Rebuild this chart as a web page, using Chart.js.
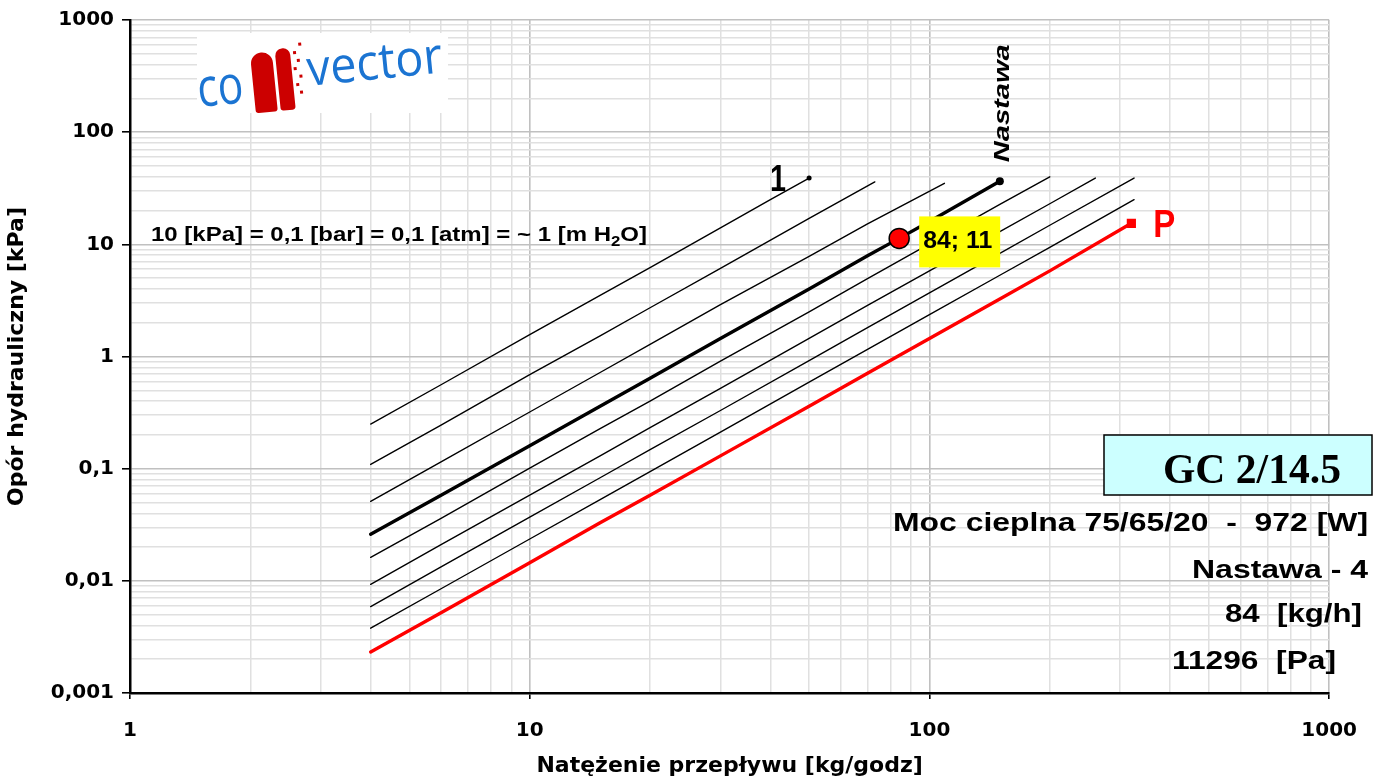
<!DOCTYPE html>
<html>
<head>
<meta charset="utf-8">
<script src="https://cdn.jsdelivr.net/npm/chart.js@4.4.1/dist/chart.umd.min.js"></script>
<style>
  html, body { margin: 0; padding: 0; background: #fff; }
  canvas { display: block; }
</style>
</head>
<body>
<canvas id="chart" width="1377" height="781"></canvas>
<script>
// Opór hydrauliczny - GC 2/14.5, krzywe nastaw

// x: natężenie przepływu [kg/h], y: opór [kPa]
const flow1 = [4, 6, 10, 15, 20, 30, 40, 50];
const dp1 = [0.25, 0.56, 1.57, 3.5, 6.2, 14, 25, 39];

const flow2 = [4, 6, 10, 15, 20, 30, 50, 73];
const dp2 = [0.109, 0.245, 0.69, 1.53, 2.72, 6.1, 17, 36];

const flow3 = [4, 6, 10, 15, 20, 30, 50, 70, 109];
const dp3 = [0.051, 0.115, 0.32, 0.72, 1.28, 2.9, 7.8, 15.2, 35];

// nastawa 4 (gruba linia)
const flow4 = [4, 6, 10, 15, 20, 30, 50, 70, 84, 100, 150];
const dp4 = [0.026, 0.058, 0.16, 0.36, 0.64, 1.45, 4.0, 7.9, 11.3, 16, 36.5];

const flow5 = [4, 6, 10, 15, 20, 30, 50, 70, 100, 150, 200];
const dp5 = [0.0162, 0.036, 0.101, 0.227, 0.40, 0.91, 2.5, 4.95, 10.1, 22.7, 40];

const flow6 = [4, 6, 10, 15, 20, 30, 50, 70, 100, 150, 200, 260];
const dp6 = [0.0093, 0.021, 0.058, 0.13, 0.232, 0.52, 1.45, 2.85, 5.8, 13, 23, 39];

const flow7 = [4, 6, 10, 15, 20, 30, 50, 70, 100, 150, 200, 325];
const dp7 = [0.0059, 0.0133, 0.037, 0.083, 0.148, 0.33, 0.92, 1.81, 3.7, 8.3, 14.8, 39];

const flow8 = [4, 6, 10, 15, 20, 30, 50, 70, 100, 150, 200, 325];
const dp8 = [0.00378, 0.0085, 0.0236, 0.053, 0.094, 0.212, 0.59, 1.16, 2.36, 5.3, 9.4, 25];

// P - pełne otwarcie (czerwona)
const flowP = [4, 6, 10, 15, 20, 30, 50, 70, 100, 150, 200, 320];
const dpP = [0.00232, 0.0052, 0.0145, 0.033, 0.058, 0.13, 0.36, 0.71, 1.45, 3.26, 5.8, 15.4];

// punkt pracy
const workFlow = 84;
const workDp = 11.296;

// osie
const xDecades = [1, 10, 100, 1000];
const xTickText = ['1', '10', '100', '1000'];
const yDecades = [0.001, 0.01, 0.1, 1, 10, 100, 1000];
const yTickText = ['0,001', '0,01', '0,1', '1', '10', '100', '1000'];

function gridValues(decades) {
    const out = [];
    decades.forEach((d, i) => {
        if (i === decades.length - 1) { out.push(d); return; }
        for (let k = 1; k < 10; k++) out.push(+(d * k).toPrecision(6));
    });
    return out;
}
const xGrid = gridValues(xDecades);
const yGrid = gridValues(yDecades);

function isDecade(v) {
    if (v === undefined) return false;
    const l = Math.log10(v);
    return Math.abs(l - Math.round(l)) < 1e-6;
}
function decadeLabel(v, values, labels) {
    const i = values.findIndex(m => Math.abs(Math.log10(m) - Math.log10(v)) < 1e-6);
    return i >= 0 ? labels[i] : '';
}
function pts(xs, ys) {
    return xs.map((x, i) => ({ x: x, y: ys[i] }));
}
function curve(xs, ys, width, color) {
    return {
        data: pts(xs, ys),
        borderColor: color || '#000',
        borderWidth: width,
        pointRadius: 0,
        tension: 0,
        borderJoinStyle: 'round',
        borderCapStyle: 'round'
    };
}
function last(arr) { return arr[arr.length - 1]; }

const SANS = '"Liberation Sans", Arial, sans-serif';
const AXISFONT = '"DejaVu Sans", sans-serif';

// tekst dopasowany do szerokości (x = lewa lub prawa krawędź)
function fitText(ctx, text, x, y, width, font, color, align) {
    ctx.save();
    ctx.font = font;
    const w = ctx.measureText(text).width;
    ctx.translate(x, y);
    ctx.scale(width / w, 1);
    ctx.fillStyle = color;
    ctx.textAlign = 'left';
    ctx.textBaseline = 'alphabetic';
    ctx.fillText(text, align === 'right' ? -w : 0, 0);
    ctx.restore();
}

function drawLogo(ctx) {
    ctx.save();
    ctx.fillStyle = '#fff';
    ctx.fillRect(197, 33, 251, 80);
    ctx.translate(199, 107);
    ctx.rotate(-0.1);
    fitText(ctx, 'co', 0, 0, 46, '54px "Open Sans", sans-serif', '#1b74d2');
    // znak grzejnika
    ctx.fillStyle = '#cc0000';
    ctx.beginPath();
    ctx.roundRect(56, -48, 22, 60, [11, 11, 3, 3]);
    ctx.fill();
    ctx.beginPath();
    ctx.roundRect(81, -50, 15, 62, [7, 7, 3, 3]);
    ctx.fill();
    [[99, -46], [102, -38], [98, -30], [103, -22], [99, -14], [102, -6], [105, -54]].forEach(p => {
        ctx.fillRect(p[0], p[1], 3, 3);
    });
    fitText(ctx, 'vector', 111, -10, 136, '50px "Open Sans", sans-serif', '#1b74d2');
    ctx.restore();
}

const notes = {
    id: 'notes',
    beforeDatasetsDraw(chart) {
        drawLogo(chart.ctx);
    },
    afterDatasetsDraw(chart) {
        const ctx = chart.ctx;
        const xs = chart.scales.x, ys = chart.scales.y;

        // przelicznik jednostek
        ctx.save();
        ctx.font = 'bold 20px ' + SANS;
        const eqA = '10 [kPa] = 0,1 [bar] = 0,1 [atm] = ~ 1 [m H';
        const eqB = 'O]';
        const wA = ctx.measureText(eqA).width;
        const wB = ctx.measureText(eqB).width;
        ctx.font = 'bold 14px ' + SANS;
        const w2 = ctx.measureText('2').width;
        const sx = 496 / (wA + w2 + wB);
        ctx.translate(151, 241);
        ctx.scale(sx, 1);
        ctx.fillStyle = '#000';
        ctx.font = 'bold 20px ' + SANS;
        ctx.fillText(eqA, 0, 0);
        ctx.font = 'bold 14px ' + SANS;
        ctx.fillText('2', wA, 5);
        ctx.font = 'bold 20px ' + SANS;
        ctx.fillText(eqB, wA + w2, 0);
        ctx.restore();

        // opis "1" przy najwyższej krzywej
        const p1x = xs.getPixelForValue(last(flow1));
        const p1y = ys.getPixelForValue(last(dp1));
        fitText(ctx, '1', p1x - 39, p1y + 13, 16, 'bold 36px ' + SANS, '#000');

        // "Nastawa" pionowo nad końcem grubej linii
        const n4x = xs.getPixelForValue(last(flow4));
        const n4y = ys.getPixelForValue(last(dp4));
        ctx.save();
        ctx.translate(n4x + 9, n4y - 19);
        ctx.rotate(-Math.PI / 2);
        fitText(ctx, 'Nastawa', 0, 0, 118, 'italic bold 22px ' + SANS, '#000');
        ctx.restore();

        // "P" przy czerwonej linii
        const pPx = xs.getPixelForValue(last(flowP));
        const pPy = ys.getPixelForValue(last(dpP));
        fitText(ctx, 'P', pPx + 22, pPy + 14, 22, 'bold 38px ' + SANS, '#ff0000');

        // etykieta punktu pracy
        const wx = xs.getPixelForValue(workFlow);
        const wy = ys.getPixelForValue(workDp);
        ctx.fillStyle = '#ffff00';
        ctx.fillRect(wx + 20, wy - 22, 81, 51);
        fitText(ctx, '84; 11', wx + 24, wy + 10, 69, 'bold 23px ' + SANS, '#000');

        // tabliczka modelu
        ctx.fillStyle = '#ccffff';
        ctx.fillRect(1104, 435, 268, 60);
        ctx.strokeStyle = '#000';
        ctx.lineWidth = 1.5;
        ctx.strokeRect(1104, 435, 268, 60);
        fitText(ctx, 'GC 2/14.5', 1163, 483, 178, 'bold 42px "Liberation Serif", "Times New Roman", serif', '#000');

        // dane grzejnika
        fitText(ctx, 'Moc cieplna 75/65/20  -  972 [W]', 1368, 531, 475, 'bold 25px ' + SANS, '#000', 'right');
        fitText(ctx, 'Nastawa - 4', 1368, 578, 176, 'bold 25px ' + SANS, '#000', 'right');
        fitText(ctx, '84  [kg/h]', 1362, 622, 137, 'bold 25px ' + SANS, '#000', 'right');
        fitText(ctx, '11296  [Pa]', 1336, 669, 164, 'bold 25px ' + SANS, '#000', 'right');
    }
};

const thin = 1.4;

new Chart(document.getElementById('chart'), {
    type: 'line',
    data: {
        datasets: [
            {
                data: [{ x: workFlow, y: workDp }],
                showLine: false,
                pointRadius: 10,
                pointBackgroundColor: '#ff0000',
                pointBorderColor: '#000',
                pointBorderWidth: 1.5
            },
            {
                data: [{ x: last(flow4), y: last(dp4) }],
                showLine: false,
                pointRadius: 4,
                pointBackgroundColor: '#000',
                pointBorderWidth: 0
            },
            {
                data: [{ x: last(flow1), y: last(dp1) }],
                showLine: false,
                pointRadius: 2.5,
                pointBackgroundColor: '#000',
                pointBorderWidth: 0
            },
            {
                data: [{ x: last(flowP), y: last(dpP) }],
                showLine: false,
                pointStyle: 'rect',
                pointRadius: 6.5,
                pointBackgroundColor: '#ff0000',
                pointBorderWidth: 0
            },
            curve(flowP, dpP, 3.4, '#ff0000'),
            curve(flow4, dp4, 3.4),
            curve(flow1, dp1, thin),
            curve(flow2, dp2, thin),
            curve(flow3, dp3, thin),
            curve(flow5, dp5, thin),
            curve(flow6, dp6, thin),
            curve(flow7, dp7, thin),
            curve(flow8, dp8, thin)
        ]
    },
    options: {
        responsive: false,
        animation: false,
        layout: { padding: { top: 18, right: 47, left: 0, bottom: 0 } },
        plugins: {
            legend: { display: false },
            tooltip: { enabled: false }
        },
        scales: {
            x: {
                type: 'logarithmic',
                min: 1,
                max: 1000,
                afterBuildTicks: s => { s.ticks = xGrid.map(v => ({ value: v })); },
                afterFit: s => { s.height = 88; },
                grid: {
                    color: c => isDecade(c.tick && c.tick.value) ? '#c0c0c0' : '#e0e0e0',
                    lineWidth: c => isDecade(c.tick && c.tick.value) ? 1.6 : 1.5,
                    tickColor: c => isDecade(c.tick && c.tick.value) ? '#000' : 'rgba(0,0,0,0)',
                    tickLength: 6
                },
                border: { color: '#000', width: 2.5 },
                ticks: {
                    autoSkip: false,
                    maxRotation: 0,
                    padding: 20,
                    color: '#000',
                    font: { family: AXISFONT, weight: 'bold', size: 20 },
                    callback: v => decadeLabel(v, xDecades, xTickText)
                },
                title: {
                    display: true,
                    text: 'Natężenie przepływu [kg/godz]',
                    color: '#000',
                    font: { family: AXISFONT, weight: 'bold', size: 22 },
                    padding: { top: 0, bottom: 2 }
                }
            },
            y: {
                type: 'logarithmic',
                min: 0.001,
                max: 1000,
                afterBuildTicks: s => { s.ticks = yGrid.map(v => ({ value: v })); },
                afterFit: s => { s.width = 130; },
                grid: {
                    color: c => isDecade(c.tick && c.tick.value) ? '#c0c0c0' : '#e0e0e0',
                    lineWidth: c => isDecade(c.tick && c.tick.value) ? 1.6 : 1.5,
                    tickColor: c => isDecade(c.tick && c.tick.value) ? '#000' : 'rgba(0,0,0,0)',
                    tickLength: 8
                },
                border: { color: '#000', width: 2.5 },
                ticks: {
                    autoSkip: false,
                    padding: 8,
                    color: '#000',
                    font: { family: AXISFONT, weight: 'bold', size: 20 },
                    callback: v => decadeLabel(v, yDecades, yTickText)
                },
                title: {
                    display: true,
                    text: 'Opór hydrauliczny [kPa]',
                    color: '#000',
                    font: { family: AXISFONT, weight: 'bold', size: 22 },
                    padding: { top: 4, bottom: 0 }
                }
            }
        }
    },
    plugins: [notes]
});
</script>
</body>
</html>
